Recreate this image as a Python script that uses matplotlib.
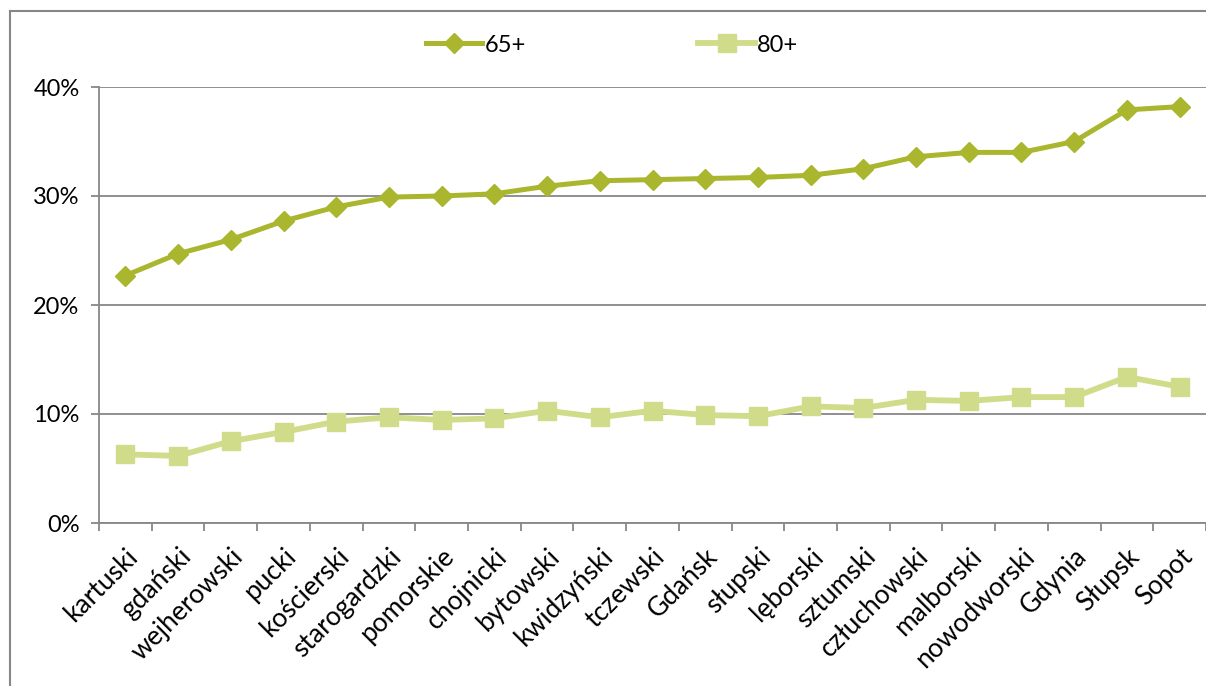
import numpy as np
import matplotlib.pyplot as plt
from matplotlib.lines import Line2D
from matplotlib.ticker import PercentFormatter

plt.rcParams['font.family'] = ['Lato', 'DejaVu Sans']

# data
powiaty = ['kartuski', 'gdański', 'wejherowski', 'pucki', 'kościerski', 'starogardzki',
           'pomorskie', 'chojnicki', 'bytowski', 'kwidzyński', 'tczewski', 'Gdańsk',
           'słupski', 'lęborski', 'sztumski', 'człuchowski', 'malborski', 'nowodworski',
           'Gdynia', 'Słupsk', 'Sopot']
share_65 = [22.7, 24.7, 26.0, 27.7, 29.0, 29.9, 30.0, 30.2, 30.9, 31.4, 31.5, 31.6,
            31.7, 31.9, 32.5, 33.6, 34.0, 34.0, 35.0, 37.9, 38.2]
share_80 = [6.3, 6.15, 7.5, 8.35, 9.3, 9.7, 9.45, 9.6, 10.3, 9.7, 10.3, 9.9,
            9.8, 10.7, 10.55, 11.3, 11.2, 11.55, 11.55, 13.4, 12.5]

dark = '#A9B62E'
light = '#D1DC8A'
grey = '#878787'

W, H = 1206, 686
fig = plt.figure(figsize=(W / 100, H / 100), dpi=100)
ax = fig.add_axes([99 / W, 1 - 523 / H, 1 - 99 / W, (523 - 87) / H])

x = np.arange(len(powiaty))
ax.plot(x, share_65, color=dark, lw=3.6, marker='D', ms=10, mec=dark, mfc=dark, zorder=3)
ax.plot(x, share_80, color=light, lw=4.2, marker='s', ms=13.5, mec=light, mfc=light, zorder=3)

ax.set_xlim(-0.5, len(powiaty) - 0.5)
ax.set_ylim(0, 40)
ax.set_yticks([0, 10, 20, 30, 40])
ax.yaxis.set_major_formatter(PercentFormatter(decimals=0))
ax.grid(axis='y', color=grey, lw=1.3, zorder=0)
ax.set_axisbelow(True)

for s in ['top', 'right']:
    ax.spines[s].set_visible(False)
ax.spines['left'].set_color(grey)
ax.spines['bottom'].set_color(grey)
ax.spines['left'].set_linewidth(1.3)
ax.spines['bottom'].set_linewidth(1.3)

# ticks sit between categories
ax.set_xticks(np.arange(len(powiaty) + 1) - 0.5)
ax.set_xticklabels([])
ax.set_xticks(x, minor=True)
ax.set_xticklabels(powiaty, minor=True, rotation=45, ha='right', rotation_mode='anchor',
                   fontsize=19)
ax.tick_params(axis='x', which='major', length=6, width=1.3, color=grey, direction='out')
ax.tick_params(axis='x', which='minor', length=0, pad=15)
ax.tick_params(axis='y', length=6, width=1.3, color=grey, labelsize=17, pad=8)

handles = [Line2D([], [], color=dark, lw=3.6, marker='D', ms=10, mec=dark),
           Line2D([], [], color=light, lw=4.2, marker='s', ms=13.5, mec=light)]
fig.legend(handles, ['65+', '80+'], loc='center', bbox_to_anchor=(612 / W, 1 - 45 / H),
           ncol=2, frameon=False, fontsize=17, handlelength=2.4, handletextpad=0.1,
           columnspacing=7.3)

# outer chart frame (only left and top edges visible)
fig.add_artist(Line2D([10 / W, 10 / W], [0, 1 - 11 / H], color=grey, lw=1.5,
                      transform=fig.transFigure))
fig.add_artist(Line2D([10 / W, 1], [1 - 11 / H, 1 - 11 / H], color=grey, lw=1.5,
                      transform=fig.transFigure))

fig.savefig('out.png', dpi=100)
